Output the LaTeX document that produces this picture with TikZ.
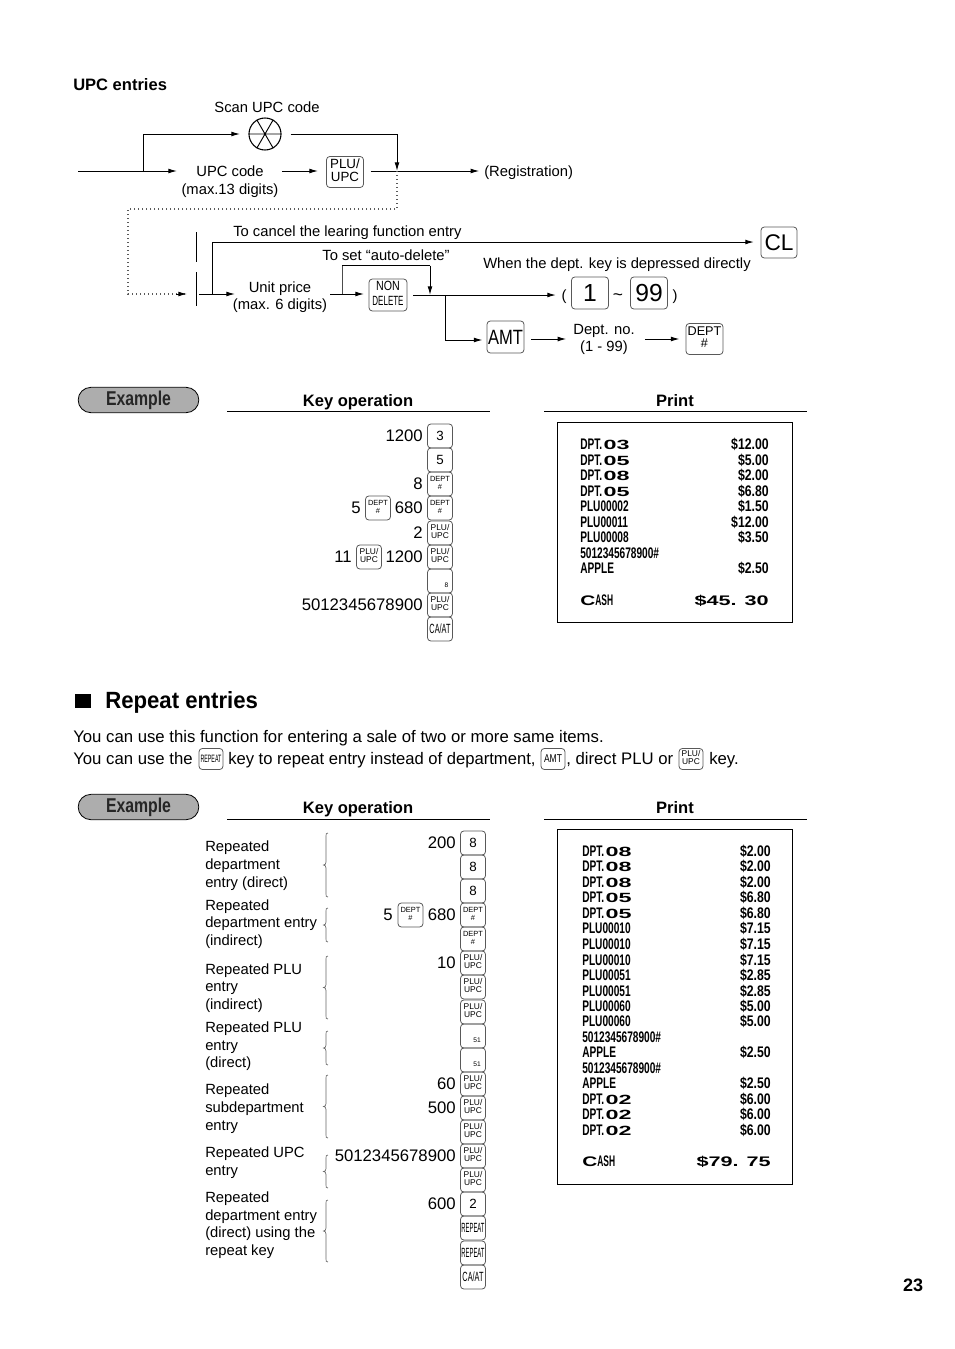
\documentclass[tikz,border=0pt]{standalone}
\usepackage{fontspec}
\usepackage{graphicx}
\setmainfont{Liberation Sans}
\usetikzlibrary{arrows.meta}
\definecolor{keyline}{gray}{0.35}
\definecolor{pillfill}{gray}{0.68}
\newcommand{\fa}{\fontsize{11.08}{13}\selectfont}
\newcommand{\fb}{\fontsize{12.55}{14}\selectfont}
\newcommand{\stk}[4]{{\fontsize{#1}{#2}\selectfont\begin{tabular}{@{}c@{}}#3\\#4\end{tabular}}}
\newcommand{\PLU}{\stk{6.3}{5.8}{PLU/}{UPC}}
\newcommand{\DEPT}{\stk{5.6}{6}{DEPT}{\#}}
\newcommand{\NARROW}[2]{\scalebox{#1}[1]{#2}}
\newcommand{\REP}{{\fontsize{10}{10}\selectfont\NARROW{.44}{REPEAT}}}
\newcommand{\CAAT}{{\fontsize{10}{10}\selectfont\NARROW{.55}{CA/AT}}}
\newcommand{\K}[6]{\node[kbox,minimum width=#4*.75pt,minimum height=#5*.75pt] (#1) at (#2,#3) {#6};}
\newcommand{\sk}[4]{\K{#1}{#2}{#3}{25}{24}{#4}}
\newcommand{\T}[4]{\node[lab,anchor=east] (#1) at (#2,#3) {#4};}
\newcommand{\dpt}[1]{\NARROW{.66}{\bfseries DPT.}\hspace{1pt}{\fontsize{10}{11}\selectfont\NARROW{1.75}{\bfseries #1}}}
\newcommand{\rc}[1]{\NARROW{.66}{\bfseries #1}}
\newcommand{\rv}[1]{\NARROW{.8}{\bfseries #1}}
\newcommand{\bigtot}[1]{{\fontsize{10.4}{11}\selectfont\scalebox{1.56}[1]{\bfseries #1}}}
\newcommand{\cash}{{\fontsize{10.4}{11}\selectfont\scalebox{1.5}[1]{\bfseries C}}\NARROW{.55}{\bfseries ASH}}
\tikzset{
  kbox/.style={draw=keyline,line width=.6pt,rounded corners=2.5pt,inner sep=0pt,font=\fontsize{10}{10}\selectfont},
  lab/.style={inner sep=0pt,font=\fb,text height=.92em,text depth=.04em},
  fl/.style={inner sep=0pt,font=\fa,text height=.85em,text depth=.05em},
  recpt/.style={inner sep=0pt,font=\fontsize{11.5}{12}\selectfont,text height=.8em,text depth=.0em},
  hd/.style={inner sep=0pt,font=\bfseries\fontsize{12.4}{14}\selectfont,text height=.92em,text depth=.04em},
  pill/.style={draw=black,fill=pillfill,rounded corners=9.5pt,line width=.6pt,minimum width=90.5pt,minimum height=19pt,inner sep=0pt,font=\bfseries\fontsize{15}{15}\selectfont,text=black!85},
  ln/.style={line width=.75pt},
  arr/.style={line width=.75pt,-{Latex[length=6.5pt,width=3.6pt]}},
  dots/.style={line width=.8pt,gray!70!black,dash pattern=on 1pt off 2pt},
  rule/.style={line width=.75pt},
  paper/.style={draw=black,line width=.75pt,inner sep=0pt},
  brc/.style={line width=.5pt,gray!80!black}
}
\newcommand{\brcpath}[2]{%
  \draw[brc] (328,#1) .. controls (326,#1) and (326,#1+1) .. (326,#1+3)
   -- (326,{(#1+#2)/2-3}) .. controls (326,{(#1+#2)/2-1}) and (325,{(#1+#2)/2}) .. (323.5,{(#1+#2)/2})
   .. controls (325,{(#1+#2)/2}) and (326,{(#1+#2)/2+1}) .. (326,{(#1+#2)/2+3})
   -- (326,#2-3) .. controls (326,#2-1) and (326,#2) .. (328,#2);}
\begin{document}
\begin{tikzpicture}[x=.75pt,y=-.75pt]
\useasboundingbox (0,0) rectangle (954,1349);
% ---------- flow chart
\node[hd,anchor=west] (upcent) at (73,84.5) {UPC entries};
\node[fl] (scantxt) at (267,107) {Scan UPC code};
\node[draw,circle,line width=.8pt,minimum size=24pt,inner sep=0pt] (scan) at (265,134) {};
\draw[line width=.7pt] (scan.0) -- (scan.180) (scan.60) -- (scan.240) (scan.120) -- (scan.300);
\coordinate (start) at (78,171);
\coordinate (b1) at (143,171);
\coordinate (b1up) at (143,134);
\coordinate (scanend) at (397,134);
\coordinate (j1) at (397,171);
\node[fl] (upc1) at (230,171) {UPC code};
\node[fl] (upc2) at (230,189) {(max.13 digits)};
\K{kplu}{345}{172}{37}{31}{\stk{10}{9.5}{PLU/}{UPC}}
\node[fl,anchor=west] (reg) at (484,171) {(Registration)};
\draw[arr] (start) -- (upc1.west -| 177,171);
\draw[arr] (b1) -- (b1up) -- (scan.west -| 240,134);
\draw[ln,shorten <=6.75pt] (scan.east) -- (scanend);
\draw[arr] (scanend) -- (j1);
\draw[arr,shorten <=13.5pt,shorten >=6pt] (upc1.east) -- (kplu.west |- upc1.east);
\draw[arr,shorten <=5pt,shorten >=3.5pt] (kplu.east |- j1) -- (reg.west);
\coordinate (d1) at (397,209);
\coordinate (d2) at (128,209);
\coordinate (d3) at (128,294);
\coordinate (d4) at (187,294);
\draw[dots] (j1) -- (d1) -- (d2) -- (d3) -- (d4);
\draw[line width=.75pt,-{Latex[length=6.5pt,width=3.6pt]}] (176,294) -- (d4);
\coordinate (v1) at (196,232);
\coordinate (v2) at (196,262);
\coordinate (v3) at (196,272);
\coordinate (v4) at (196,306);
\draw[line width=.7pt] (v1) -- (v2) (v3) -- (v4);
\node[fl,anchor=west] (cancel) at (233,231) {To cancel the learing function entry};
\node[fl] (autotxt) at (386,255) {To set “auto-delete”};
\node[fl] (unit1) at (280,287) {Unit price};
\node[fl] (unit2) at (280,304) {(max. 6 digits)};
\K{kcl}{779}{242.5}{36}{31}{\fontsize{17}{17}\selectfont CL}
\K{knon}{388}{295}{38}{32}{\stk{10}{11}{\NARROW{.8}{NON}}{\NARROW{.6}{DELETE}}}
\node[fl,anchor=west] (when) at (483,263) {When the dept. key is depressed directly};
\node[fl] (pl) at (564,295) {(};
\K{k1}{590}{293}{37}{32}{\fontsize{18.5}{18}\selectfont 1}
\node[fl,font=\fontsize{13}{13}\selectfont] (til) at (618,295) {\textasciitilde};
\K{k99}{649}{293}{37}{32}{\fontsize{18.5}{18}\selectfont 99}
\node[fl] (pr) at (675,295) {)};
\K{kamt}{505.5}{337}{37}{32}{\fontsize{15.5}{16}\selectfont\NARROW{.8}{\raisebox{-1pt}{AMT}}}
\node[fl] (dn1) at (604,329) {Dept. no.};
\node[fl] (dn2) at (604,346) {(1 - 99)};
\K{kdep}{704.5}{339}{37}{31}{\stk{9.5}{9}{DEPT}{\#}}
\coordinate (s0) at (199,294);
\coordinate (s1) at (212,294);
\coordinate (s2) at (212,242);
\coordinate (s3) at (342,294);
\coordinate (s4) at (342,265.5);
\coordinate (s5) at (430,265.5);
\coordinate (s6) at (430,295);
\coordinate (s7) at (445,295);
\coordinate (s8) at (445,340);
\draw[arr] (s0) -- (235,294);
\draw[arr,shorten >=5pt] (s1) -- (s2) -- (s2 -| kcl.west);
\draw[arr,shorten <=2pt] (unit2.east |- s3) -- (364,294);
\draw[ln,gray!60!black] (s3) -- (s4);
\draw[ln] (s4) -- (s5);
\draw[arr] (s5) -- (s6);
\draw[arr,shorten <=4.5pt,shorten >=4pt] (knon.east) -- (pl.west);
\draw[arr,shorten >=3pt] (s7) -- (s8) -- (s8 -| kamt.west);
\draw[arr,shorten <=5pt,shorten >=5pt] (kamt.east |- 0,339) -- (dn1.west |- 0,339);
\draw[arr,shorten <=7.5pt,shorten >=4.5pt] (dn1.east |- 0,339) -- (kdep.west |- 0,339);
% ---------- first example
\node[pill] (ex1) at (138.5,400) {\NARROW{.79}{Example}};
\node[hd] (ko1) at (358,401) {Key operation};
\node[hd] (pr1) at (675,401) {Print};
\coordinate (r1a) at (227,411); \coordinate (r1b) at (490,411);
\coordinate (r2a) at (544,411); \coordinate (r2b) at (807,411);
\draw[rule] (r1a) -- (r1b);
\draw[rule] (r2a) -- (r2b);
\T{a1}{423}{436}{1200}\sk{ka1}{440}{436}{3}
\sk{ka2}{440}{460}{5}
\T{a3}{423}{484}{8}\sk{ka3}{440}{484}{\DEPT}
\T{a4}{361}{508}{5}\sk{ka4a}{378}{508}{\DEPT}\T{a4b}{423}{508}{680}\sk{ka4}{440}{508}{\DEPT}
\T{a5}{423}{533}{2}\sk{ka5}{440}{533}{\PLU}
\T{a6}{352}{557}{11}\sk{ka6a}{369}{557}{\PLU}\T{a6b}{423}{557}{1200}\sk{ka6}{440}{557}{\PLU}
\sk{ka7}{440}{581}{}
\node[inner sep=0pt,font=\fontsize{5}{5}\selectfont] (ka7t) at (446.5,585) {8};
\T{a8}{423}{605}{5012345678900}\sk{ka8}{440}{605}{\PLU}
\sk{ka9}{440}{629}{\CAAT}
\node[paper,minimum width=176.25pt,minimum height=150pt] (rec1) at (674.5,522) {};
\foreach \n/\y/\l/\r in {1/444/\dpt{03}/\$12.00,2/460/\dpt{05}/\$5.00,3/475/\dpt{08}/\$2.00,4/491/\dpt{05}/\$6.80,5/506/\rc{PLU00002}/\$1.50,6/522/\rc{PLU00011}/\$12.00,7/537/\rc{PLU00008}/\$3.50,8/553/\rc{5012345678900\#}/,9/568/\rc{APPLE}/\$2.50}{
  \node[recpt,anchor=west] (l1-\n) at (580,\y) {\l};
  \node[recpt,anchor=east] (v1-\n) at (769,\y) {\rv{\r}};
}
\node[recpt,anchor=west] (c1l) at (580,600) {\cash};
\node[recpt,anchor=east] (c1r) at (769,600) {\bigtot{\$45. 30}};
% ---------- repeat entries
\node[fill=black,minimum width=12pt,minimum height=11pt,inner sep=0pt] (sq) at (83,701) {};
\node[inner sep=0pt,anchor=west,font=\bfseries\fontsize{17.6}{20}\selectfont,text height=1.1em,text depth=0em] (rptitle) at (105,701) {\NARROW{.945}{Repeat entries}};
\node[lab,anchor=west] (p1) at (73,737) {You can use this function for entering a sale of two or more same items.};
\node[lab,anchor=west] (p2a) at (73,759) {You can use the};
\K{kp1}{211}{759}{24}{21}{\fontsize{8}{8}\selectfont\NARROW{.5}{REPEAT}}
\node[lab,anchor=west] (p2b) at (228,759) {\NARROW{.992}{key to repeat entry instead of department,}};
\K{kp2}{553}{759}{24}{21}{\fontsize{8.5}{8}\selectfont\NARROW{.75}{AMT}}
\node[lab,anchor=west] (p2c) at (566,759) {, direct PLU or};
\K{kp3}{691}{759}{24}{21}{\PLU}
\node[lab,anchor=west] (p2d) at (709,759) {key.};
\node[pill] (ex2) at (138.5,807) {\NARROW{.79}{Example}};
\node[hd] (ko2) at (358,808) {Key operation};
\node[hd] (pr2) at (675,808) {Print};
\coordinate (r3a) at (227,819); \coordinate (r3b) at (490,819);
\coordinate (r4a) at (544,819); \coordinate (r4b) at (807,819);
\draw[rule] (r3a) -- (r3b);
\draw[rule] (r4a) -- (r4b);
% labels
\foreach \n/\y/\t in {1/846/Repeated,2/864/department,3/882/entry (direct),4/905/Repeated,5/922/department entry,6/940/(indirect),7/969/Repeated PLU,8/986/entry,9/1004/(indirect),10/1027/Repeated PLU,11/1045/entry,12/1062/(direct),13/1089/Repeated,14/1107/subdepartment,15/1125/entry,16/1152/Repeated UPC,17/1170/entry,18/1197/Repeated,19/1215/department entry,20/1232/(direct) using the,21/1250/repeat key}{
  \node[fl,anchor=west] (rl\n) at (205,\y) {\t};
}
\brcpath{833}{897}
\brcpath{908}{942}
\brcpath{956}{1019}
\brcpath{1031}{1065}
\brcpath{1075}{1138}
\brcpath{1155}{1188}
\brcpath{1200}{1262}
\T{b1}{456}{843}{200}\sk{kb1}{473}{843}{8}
\sk{kb2}{473}{867}{8}
\sk{kb3}{473}{891}{8}
\T{b4}{393}{915}{5}\sk{kb4a}{410.5}{915}{\DEPT}\T{b4b}{456}{915}{680}\sk{kb4}{473}{915}{\DEPT}
\sk{kb5}{473}{939}{\DEPT}
\T{b6}{456}{963}{10}\sk{kb6}{473}{963}{\PLU}
\sk{kb7}{473}{987}{\PLU}
\sk{kb8}{473}{1012}{\PLU}
\sk{kb9}{473}{1036}{}
\node[inner sep=0pt,font=\fontsize{5}{5}\selectfont] (kb9t) at (477,1040) {51};
\sk{kb10}{473}{1060}{}
\node[inner sep=0pt,font=\fontsize{5}{5}\selectfont] (kb10t) at (477,1064) {51};
\T{b11}{456}{1084}{60}\sk{kb11}{473}{1084}{\PLU}
\T{b12}{456}{1108}{500}\sk{kb12}{473}{1108}{\PLU}
\sk{kb13}{473}{1132}{\PLU}
\T{b14}{456}{1156}{5012345678900}\sk{kb14}{473}{1156}{\PLU}
\sk{kb15}{473}{1180}{\PLU}
\T{b16}{456}{1204}{600}\sk{kb16}{473}{1204}{2}
\sk{kb17}{473}{1228}{\REP}
\sk{kb18}{473}{1253}{\REP}
\sk{kb19}{473}{1277}{\CAAT}
\node[paper,minimum width=176.25pt,minimum height=266.25pt] (rec2) at (674.5,1006.5) {};
\foreach \n/\y/\l/\r in {1/851/\dpt{08}/\$2.00,2/866/\dpt{08}/\$2.00,3/882/\dpt{08}/\$2.00,4/897/\dpt{05}/\$6.80,5/913/\dpt{05}/\$6.80,6/928/\rc{PLU00010}/\$7.15,7/944/\rc{PLU00010}/\$7.15,8/960/\rc{PLU00010}/\$7.15,9/975/\rc{PLU00051}/\$2.85,10/991/\rc{PLU00051}/\$2.85,11/1006/\rc{PLU00060}/\$5.00,12/1021/\rc{PLU00060}/\$5.00,13/1037/\rc{5012345678900\#}/,14/1052/\rc{APPLE}/\$2.50,15/1068/\rc{5012345678900\#}/,16/1083/\rc{APPLE}/\$2.50,17/1099/\dpt{02}/\$6.00,18/1114/\dpt{02}/\$6.00,19/1130/\dpt{02}/\$6.00}{
  \node[recpt,anchor=west] (l2-\n) at (582,\y) {\l};
  \node[recpt,anchor=east] (v2-\n) at (771,\y) {\rv{\r}};
}
\node[recpt,anchor=west] (c2l) at (582,1161) {\cash};
\node[recpt,anchor=east] (c2r) at (771,1161) {\bigtot{\$79. 75}};
\node[inner sep=0pt,font=\bfseries\fontsize{13.5}{14}\selectfont] (pg) at (913,1285) {23};
\end{tikzpicture}
\end{document}
